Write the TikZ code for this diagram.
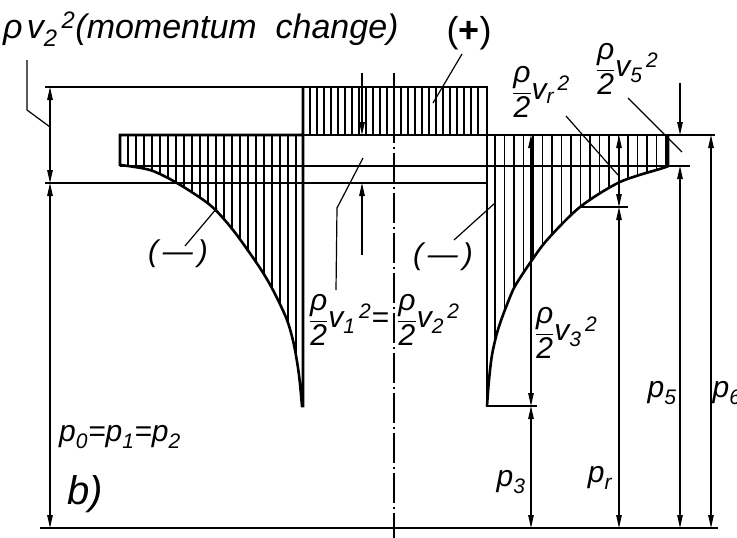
\documentclass[tikz,border=0pt]{standalone}
\usepackage{amsmath}
\usepackage{fontspec}
\setmainfont{Liberation Sans}
\usetikzlibrary{arrows.meta,calc}

\newcommand{\tx}[1]{\text{\itshape #1}}
\newcommand{\vsq}[1]{\tx{v}_{\tx{#1}}{}^{\,\tx{2}}}
\newcommand{\rhohalf}{\dfrac{\tx{ρ}}{\tx{2}}}

\begin{document}
\begin{tikzpicture}[x=1pt,y=-1pt,
  outline/.style={line width=2.6pt, line join=miter},
  hatch/.style={line width=1.5pt},
  level/.style={line width=1.3pt},
  dim/.style={line width=1.1pt, {Triangle[length=13pt,width=5.5pt]}-{Triangle[length=13pt,width=5.5pt]}},
  dimto/.style={line width=1.1pt, -{Triangle[length=13pt,width=5.5pt]}},
  leader/.style={line width=1.2pt},
  axis/.style={line width=1.1pt, dash pattern=on 30pt off 4pt on 2pt off 4pt},
  lbl/.style={font=\fontsize{30}{34}\selectfont\itshape, inner sep=0pt}
]
\useasboundingbox (0,0) rectangle (737,538);

\coordinate (tipL) at (302,406);
\coordinate (tipR) at (487,406);

\begin{scope}
\clip (120,135) -- (303,135) -- (303,406) -- plot[smooth] coordinates {(302,406) (299,375) (294,345) (287,320) (274,292) (260,268) (233,230) (210,205) (177,183) (150,170) (120,165)} -- cycle;
\foreach \x in {128,136,...,300} \draw[hatch] (\x,130) -- (\x,410);
\end{scope}
\begin{scope}
\clip (303,87) rectangle (487,135);
\foreach \x in {310,317,...,484} \draw[hatch] (\x,80) -- (\x,140);
\end{scope}
\begin{scope}
\clip (487,135) -- (668,135) -- (668,166) -- plot[smooth] coordinates {(668,166) (663,168) (620,182) (580,207) (547,240) (530,263) (520,278) (513,290) (503,315) (497,333) (492,355) (489,380) (487,406)} -- cycle;
\foreach \x in {495,504.5,...,666} \draw[hatch] (\x,130) -- (\x,410);
\end{scope}

\draw[outline] (303,87) rectangle (487,135);
\draw[outline] (303,87) -- (303,406) -- plot[smooth] coordinates {(302,406) (299,375) (294,345) (287,320) (274,292) (260,268) (233,230) (210,205) (177,183) (150,170) (120,165)} -- (120,135) -- (303,135);
\draw[outline] (537,406) -- (tipR) -- (487,135) -- (715,135);
\draw[outline] (668,135) -- (668,166) -- plot[smooth] coordinates {(668,166) (663,168) (620,182) (580,207) (547,240) (530,263) (520,278) (513,290) (503,315) (497,333) (492,355) (489,380) (487,406)};

\draw[level] (45,87) -- (303,87);
\draw[level] (120,166) -- (690,166);
\draw[level] (45,183) -- (487,183);
\draw[level] (580,207) -- (628,207);
\draw[level] (40,528) -- (718,528);
\draw[axis] (394,73) -- (394,538);

\draw[dim] (50,87) -- (50,183);
\draw[dim] (50,183) -- (50,528);
\draw[dimto] (362,73) -- (362,135);
\draw[dimto] (362,255) -- (362,183);
\draw[dim] (531,135) -- (531,406);
\draw[dim] (531,406) -- (531,528);
\draw[dim] (619,135) -- (619,207);
\draw[dim] (619,207) -- (619,528);
\draw[dimto] (680,83) -- (680,135);
\draw[dim] (680,166) -- (680,528);
\draw[dim] (711,135) -- (711,528);

\draw[leader] (27,60) -- (27,110) -- (50,127);
\draw[leader] (462,54) -- (433,103);
\draw[leader] (566,116) -- (618,175);
\draw[leader] (628,98) -- (682,152);
\draw[leader] (185,246) -- (217,208);
\draw[leader] (454,240) -- (495,203);
\draw[leader] (363,158) -- (337,208) -- (336,290);

\node[lbl, anchor=base west, font=\fontsize{34}{38}\selectfont\itshape] (momentum) at (3,38) {$\tx{ρ}\,\vsq{2}$(momentum\ \ change)};
\node[lbl, font=\fontsize{36}{40}\selectfont] (plus) at (469,33) {(\textbf{+})};
\node[lbl] (vr) at (541,92) {$\rhohalf\vsq{r}$};
\node[lbl] (vfive) at (627,69) {$\rhohalf\vsq{5}$};
\node[lbl] (minusL) at (178,254) {(\,---\,)};
\node[lbl] (minusR) at (443,257) {(\,---\,)};
\node[lbl, anchor=east] (vone) at (389,320) {$\rhohalf\vsq{1}\tx{=}$};
\node[lbl, anchor=west] (vtwo) at (397,320) {$\rhohalf\vsq{2}$};
\node[lbl] (vthree) at (566,333) {$\rhohalf\vsq{3}$};
\node[lbl] (pnull) at (120,437) {$\tx{p}_{\tx{0}}\tx{=}\tx{p}_{\tx{1}}\tx{=}\tx{p}_{\tx{2}}$};
\node[lbl, font=\fontsize{40}{44}\selectfont\itshape] (b) at (85,494) {b)};
\node[lbl] (pthree) at (511,482) {$\tx{p}_{\tx{3}}$};
\node[lbl] (pr) at (600,478) {$\tx{p}_{\tx{r}}$};
\node[lbl] (pfive) at (662,393) {$\tx{p}_{\tx{5}}$};
\node[lbl] (psix) at (727,393) {$\tx{p}_{\tx{6}}$};
\end{tikzpicture}
\end{document}
